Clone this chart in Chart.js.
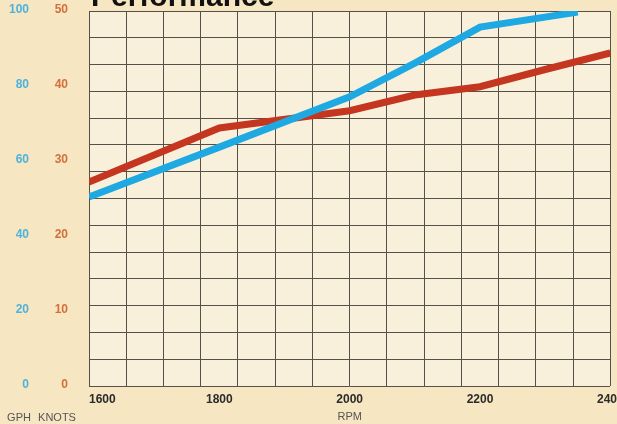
<!DOCTYPE html>
<html>
<head>
<meta charset="utf-8">
<script src="https://cdn.jsdelivr.net/npm/chart.js@4.4.0/dist/chart.umd.min.js"></script>
<style>
  html, body { margin: 0; padding: 0; background: #f6e6c2; }
  canvas { display: block; }
</style>
</head>
<body>
<canvas id="c" width="617" height="424"></canvas>
<script>
// ---- data ----
const chartTitle = "Performance";
const xTitle = "RPM";
const gphTitle = "GPH";
const knotsTitle = "KNOTS";
const rpmTicks = [1600, 1800, 2000, 2200, 2400];
const knotsRpm = [1600, 1800, 2000, 2100, 2200, 2300, 2400];
const knotsValues = [27.2, 34.4, 36.7, 38.8, 39.9, 42.2, 44.4];
const gphRpm = [1600, 1800, 2000, 2100, 2200, 2350];
const gphValues = [50.4, 63.7, 77.1, 86.1, 95.7, 99.7];
const gridColumns = 14;
const gridRows = 14;

const tickFont = { family: "'Liberation Sans', Arial, sans-serif", size: 12, weight: 'bold' };
const labelFont = "11px 'Liberation Sans Narrow', 'Liberation Sans', Arial, sans-serif";

const bgPlugin = {
  id: 'bg',
  beforeDraw(chart) {
    const { ctx, chartArea: a } = chart;
    ctx.save();
    ctx.fillStyle = '#f6e6c2';
    ctx.fillRect(0, 0, chart.width, chart.height);
    ctx.fillStyle = '#f9f0dc';
    ctx.fillRect(a.left, a.top, a.right - a.left, a.bottom - a.top);
    ctx.restore();
  },
  afterDraw(chart) {
    const { ctx, chartArea: a } = chart;
    ctx.save();
    ctx.fillStyle = '#111';
    ctx.font = "bold 30px 'Liberation Sans', Arial, sans-serif";
    ctx.textBaseline = 'alphabetic';
    ctx.textAlign = 'left';
    ctx.fillText(chartTitle, a.left + 2, 6);
    ctx.fillStyle = '#555';
    ctx.font = labelFont;
    ctx.textBaseline = 'middle';
    ctx.textAlign = 'center';
    ctx.fillText(gphTitle, 19, 418);
    ctx.fillText(knotsTitle, 57, 418);
    ctx.restore();
  }
};

new Chart(document.getElementById('c'), {
  type: 'line',
  data: {
    datasets: [
      {
        label: 'GPH',
        data: gphRpm.map((r, i) => ({ x: r, y: gphValues[i] })),
        borderColor: '#1ea9e3',
        borderWidth: 7,
        pointRadius: 0,
        tension: 0,
        xAxisID: 'x',
        yAxisID: 'yG'
      },
      {
        label: 'KNOTS',
        data: knotsRpm.map((r, i) => ({ x: r, y: knotsValues[i] })),
        borderColor: '#c4361f',
        borderWidth: 7,
        pointRadius: 0,
        tension: 0,
        xAxisID: 'x',
        yAxisID: 'yK'
      }
    ]
  },
  options: {
    responsive: false,
    devicePixelRatio: 1,
    animation: false,
    layout: { padding: { top: 11, right: 6, left: 0, bottom: 0 } },
    plugins: { legend: { display: false }, tooltip: { enabled: false }, title: { display: false } },
    scales: {
      x: {
        type: 'linear',
        position: 'bottom',
        min: rpmTicks[0],
        max: rpmTicks[rpmTicks.length - 1],
        afterBuildTicks(scale) {
          const t = rpmTicks.map(v => ({ value: v }));
          t.push({ value: rpmTicks[rpmTicks.length - 1] + 1 });
          scale.ticks = t;
        },
        afterFit(scale) { scale.height = 38; },
        grid: { display: false, drawTicks: false },
        border: { display: false },
        ticks: {
          autoSkip: false,
          maxRotation: 0,
          align: 'inner',
          padding: 6,
          color: '#2b2b2b',
          font: tickFont,
          callback: (v) => (rpmTicks.includes(v) ? String(v) : '')
        },
        title: {
          display: true,
          text: xTitle,
          color: '#555',
          font: { family: "'Liberation Sans Narrow', 'Liberation Sans', Arial, sans-serif", size: 11 },
          padding: { top: 0, bottom: 0 }
        }
      },
      gx: {
        type: 'linear',
        position: 'top',
        min: 0,
        max: gridColumns,
        afterFit(scale) { scale.height = 0; },
        grid: { color: '#55504a', lineWidth: 1, drawTicks: false },
        border: { display: false },
        ticks: { display: false, stepSize: 1, padding: 0 }
      },
      gy: {
        type: 'linear',
        position: 'right',
        min: 0,
        max: gridRows,
        afterFit(scale) { scale.width = 0; },
        grid: { color: '#55504a', lineWidth: 1, drawTicks: false },
        border: { display: false },
        ticks: { display: false, stepSize: 1, padding: 0 }
      },
      yK: {
        type: 'linear',
        position: 'left',
        weight: 1,
        min: 0,
        max: 50,
        afterFit(scale) { scale.width = 49; },
        grid: { display: false, drawTicks: true, tickLength: 21, tickColor: 'rgba(0,0,0,0)' },
        border: { display: false },
        ticks: { stepSize: 10, padding: 0, labelOffset: -1, color: '#d2703c', font: tickFont }
      },
      yG: {
        type: 'linear',
        position: 'left',
        weight: 2,
        min: 0,
        max: 100,
        afterFit(scale) { scale.width = 40; },
        grid: { display: false, drawTicks: true, tickLength: 11, tickColor: 'rgba(0,0,0,0)' },
        border: { display: false },
        ticks: { stepSize: 20, padding: 0, labelOffset: -1, color: '#4fb2dc', font: tickFont }
      }
    }
  },
  plugins: [bgPlugin]
});
</script>
</body>
</html>
